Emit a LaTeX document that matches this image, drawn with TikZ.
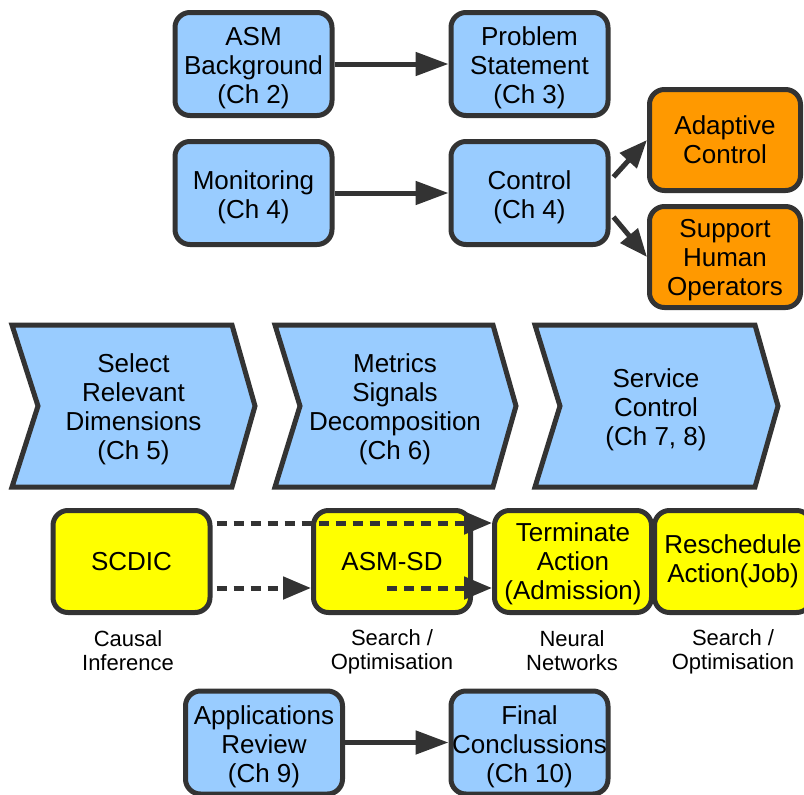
\documentclass[tikz,border=0pt]{standalone}
\usepackage{fontspec}
\setmainfont{Liberation Sans}
\usetikzlibrary{arrows.meta}
\definecolor{edgegrey}{HTML}{333333}
\definecolor{skyfill}{HTML}{99CCFF}
\definecolor{orangefill}{HTML}{FF9900}
\definecolor{yellowfill}{HTML}{FFFF00}
% invisible struts that push the first or last line of a box
\newcommand\topgap[1]{\rule{0pt}{#1}}
\newcommand\lowgap[1]{\rule[-#1]{0pt}{0pt}}
\begin{document}
\begin{tikzpicture}[x=1pt,y=-1pt,
  box/.style={draw=edgegrey,line width=5pt,rounded corners=15pt,align=center,
    font=\fontsize{26}{29}\selectfont,inner sep=0pt},
  bluebox/.style={box,fill=skyfill,minimum width=157pt,minimum height=103pt},
  orangebox/.style={box,fill=orangefill,minimum width=151pt,minimum height=101pt},
  yellowbox/.style={box,fill=yellowfill,minimum width=157pt,minimum height=102pt},
  chevron/.style={draw=edgegrey,line width=5pt,fill=skyfill,line join=miter},
  chevtext/.style={align=center,font=\fontsize{26}{29}\selectfont,inner sep=0pt},
  note/.style={align=center,font=\fontsize{22}{24}\selectfont,inner sep=0pt},
  flow/.style={draw=edgegrey,line width=5pt,-{Triangle[length=33pt,width=23pt]}},
  smallflow/.style={draw=edgegrey,line width=5pt,-{Triangle[length=28pt,width=22pt]}},
  dashflow/.style={draw=edgegrey,line width=5pt,dash pattern=on 10pt off 7pt,
    -{Triangle[length=28pt,width=22pt]}}]
\useasboundingbox (0,0) rectangle (804,795);

% chapter overview boxes
\node[bluebox] (asm)  at (253.5,64)  {\topgap{27pt}ASM\\Background\\(Ch 2)};
\node[bluebox] (prob) at (529.5,64)  {\topgap{27pt}Problem\\Statement\\(Ch 3)};
\node[bluebox] (mon)  at (253.5,193) {\topgap{27pt}Monitoring\\(Ch 4)};
\node[bluebox] (ctrl) at (529.5,193) {\topgap{27pt}Control\\(Ch 4)};
\node[orangebox] (adapt) at (725,140) {Adaptive\\Control};
\node[orangebox] (supp)  at (725,257) {\topgap{25pt}Support\\Human\\Operators};

\draw[flow] (asm.east) -- (prob.west);
\draw[flow] (mon.east) -- (ctrl.west);
\draw[smallflow] ([xshift=3pt,yshift=16pt]ctrl.east) -- (adapt.west);
\draw[smallflow] ([xshift=3pt,yshift=-24pt]ctrl.east) -- (supp.west);

% process chevrons
\draw[chevron] (12,325) -- (232,325) -- (255,406) -- (232,487) -- (12,487) -- (38,406) -- cycle;
\draw[chevron] (275,325) -- (493,325) -- (516,406) -- (493,487) -- (275,487) -- (300,406) -- cycle;
\draw[chevron] (535,325) -- (755,325) -- (778,406) -- (755,487) -- (535,487) -- (560,406) -- cycle;
\node[chevtext] (sel) at (133.5,409) {Select\\Relevant\\Dimensions\\(Ch 5)};
\node[chevtext] (met) at (395,409) {Metrics\\Signals\\Decomposition\\(Ch 6)};
\node[chevtext] (svc) at (656,410) {Service\\Control\\(Ch 7, 8)};

% techniques
\node[yellowbox] (scdic) at (131.5,561.5) {SCDIC};
\node[yellowbox] (asmsd) at (392,561.5)   {ASM-SD};
\node[yellowbox] (term)  at (573,561.5)   {\topgap{23pt}Terminate\\Action\\(Admission)};
\node[yellowbox] (resch) at (733,561.5)   {Reschedule\\Action(Job)};

\draw[dashflow] ([xshift=4pt,yshift=38.5pt]scdic.east) -- ([yshift=38.5pt]term.west);
\draw[dashflow] ([xshift=4pt,yshift=-26.5pt]scdic.east) -- ([yshift=-26.5pt]asmsd.west);
\coordinate (sdstart) at ([xshift=-5pt,yshift=-26.5pt]asmsd.center);
\draw[dashflow] (sdstart) -- ([yshift=-26.5pt]term.west);

\node[note] (n1) at (128,651)   {Causal\\Inference};
\node[note] (n2) at (392,652)   {Search /\\Optimisation};
\node[note] (n3) at (572,651)   {Neural\\Networks};
\node[note] (n4) at (733,652)   {Search /\\Optimisation};

% closing chapters
\node[bluebox] (apps)  at (264,742.5)   {\topgap{27pt}Applications\\Review\\(Ch 9)};
\node[bluebox] (final) at (529.5,742.5) {\topgap{27pt}Final\\Conclussions\\(Ch 10)};
\draw[flow] (apps.east) -- (final.west);
\end{tikzpicture}
\end{document}
